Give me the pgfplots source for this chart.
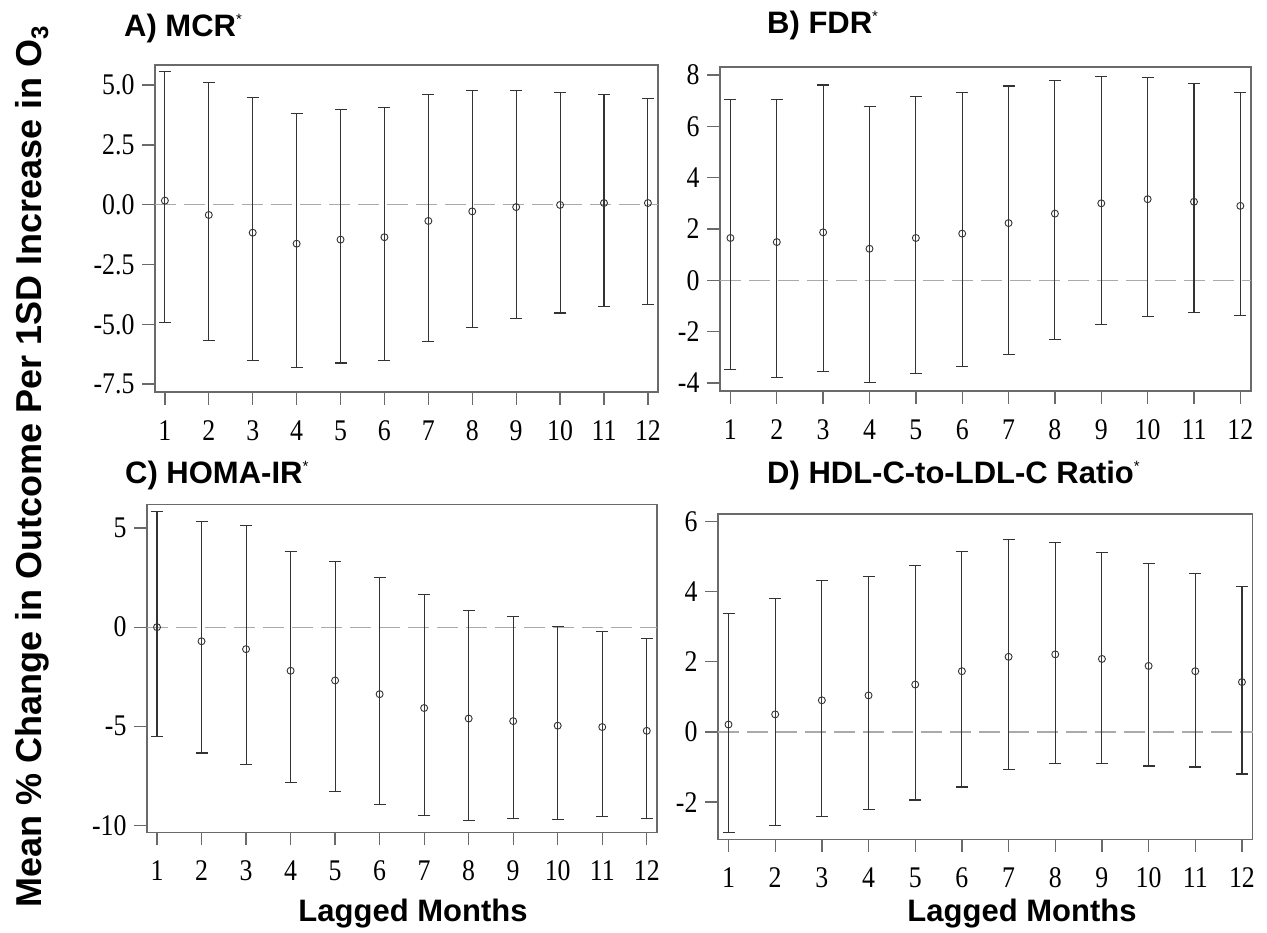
\documentclass[border=0pt]{standalone}
\usepackage{fontspec}
\setmainfont{Liberation Serif}
\setsansfont{Liberation Sans}
\newfontfamily\tickfont[FakeStretch=0.86]{Liberation Serif}
\usepackage{pgfplots}
\usepackage{pgfplotstable}
\pgfplotsset{compat=1.18}

\definecolor{boxgray}{HTML}{6A6A6A}
\definecolor{bargray}{HTML}{333333}
\definecolor{zerogray}{HTML}{AAAAAA}

% lagged month, estimated mean % change, lower and upper 95% limits
\pgfplotstableread{
lag  mean   lo     hi
1    0.17  -4.92   5.57
2   -0.43  -5.68   5.11
3   -1.17  -6.50   4.48
4   -1.63  -6.81   3.82
5   -1.46  -6.62   3.98
6   -1.36  -6.50   4.05
7   -0.68  -5.72   4.60
8   -0.28  -5.15   4.79
9   -0.10  -4.76   4.79
10  -0.01  -4.53   4.68
11   0.07  -4.25   4.60
12   0.07  -4.18   4.43
}\mcr

\pgfplotstableread{
lag  mean   lo     hi
1    1.65  -3.47   7.04
2    1.49  -3.77   7.06
3    1.87  -3.55   7.61
4    1.23  -3.99   6.77
5    1.65  -3.62   7.17
6    1.82  -3.36   7.31
7    2.23  -2.88   7.57
8    2.60  -2.31   7.77
9    3.00  -1.71   7.94
10   3.16  -1.42   7.90
11   3.06  -1.27   7.65
12   2.90  -1.38   7.31
}\fdr

\pgfplotstableread{
lag  mean   lo     hi
1    0.00  -5.51   5.83
2   -0.71  -6.35   5.33
3   -1.11  -6.91   5.13
4   -2.20  -7.85   3.83
5   -2.69  -8.30   3.31
6   -3.38  -8.96   2.52
7   -4.08  -9.48   1.63
8   -4.61  -9.75   0.84
9   -4.74  -9.66   0.52
10  -4.97  -9.70   0.03
11  -5.04  -9.56  -0.24
12  -5.23  -9.66  -0.57
}\homa

\pgfplotstableread{
lag  mean   lo     hi
1    0.21  -2.86   3.38
2    0.50  -2.66   3.79
3    0.90  -2.42   4.32
4    1.04  -2.20   4.43
5    1.35  -1.94   4.73
6    1.73  -1.57   5.14
7    2.14  -1.08   5.48
8    2.21  -0.89   5.40
9    2.08  -0.89   5.10
10   1.88  -0.97   4.79
11   1.73  -1.00   4.52
12   1.42  -1.20   4.14
}\hdlldl

\pgfplotsset{
  lagpanel/.style={
    scale only axis,
    anchor=south west,
    xmin=0.775, xmax=12.23,
    xtick={1,...,12},
    tick pos=left,
    tick align=outside,
    major tick length=13pt,
    axis line style={boxgray, line width=1.3pt},
    every tick/.style={boxgray, line width=1.3pt},
    tick label style={font=\tickfont\fontsize{30}{30}\selectfont},
    xticklabel style={yshift=-12pt},
    yticklabel style={xshift=-4pt},
    /pgf/number format/assume math mode=true,
    clip=false,
  },
  zeroline/.style={zerogray, line width=1.3pt, dash pattern=on 21pt off 8pt, forget plot},
  cibars/.style={
    only marks, mark=o, mark size=3.5pt,
    color=bargray,
    mark options={bargray, line width=0.9pt},
    error bars/.cd,
      y dir=both, y explicit,
      error bar style={line width=1.1pt, bargray},
      error mark options={rotate=90, mark size=6pt, line width=1.1pt, bargray},
  },
}

\newcommand{\cistar}{\raisebox{12pt}{\fontsize{15}{15}\selectfont\mdseries *}}

\begin{document}
\begin{tikzpicture}
\useasboundingbox (0,0) rectangle (1267pt,933pt);

% A) MCR
\begin{axis}[lagpanel, at={(155pt,541pt)}, width=503pt, height=327pt,
  ymin=-7.83, ymax=5.84,
  ytick={-7.5,-5,-2.5,0,2.5,5},
  yticklabels={-7.5,-5.0,-2.5,0.0,2.5,5.0}]
\addplot[zeroline] coordinates {(0.775,0) (12.23,0)};
\addplot[cibars] table[x=lag, y=mean,
  y error plus expr=\thisrow{hi}-\thisrow{mean},
  y error minus expr=\thisrow{mean}-\thisrow{lo}] {\mcr};
\end{axis}

% B) FDR
\begin{axis}[lagpanel, at={(720pt,542pt)}, width=531pt, height=324pt,
  ymin=-4.31, ymax=8.31,
  ytick={-4,-2,0,2,4,6,8},
  yticklabels={-4,-2,0,2,4,6,8}]
\addplot[zeroline] coordinates {(0.775,0) (12.23,0)};
\addplot[cibars] table[x=lag, y=mean,
  y error plus expr=\thisrow{hi}-\thisrow{mean},
  y error minus expr=\thisrow{mean}-\thisrow{lo}] {\fdr};
\end{axis}

% C) HOMA-IR
\begin{axis}[lagpanel, at={(147pt,100.7pt)}, width=510pt, height=328pt,
  ymin=-10.35, ymax=6.2,
  ytick={-10,-5,0,5},
  yticklabels={-10,-5,0,5}]
\addplot[zeroline] coordinates {(0.775,0) (12.23,0)};
\addplot[cibars] table[x=lag, y=mean,
  y error plus expr=\thisrow{hi}-\thisrow{mean},
  y error minus expr=\thisrow{mean}-\thisrow{lo}] {\homa};
\end{axis}

% D) HDL-C-to-LDL-C ratio
\begin{axis}[lagpanel, at={(718pt,93.7pt)}, width=534.7pt, height=325.3pt,
  ymin=-3.06, ymax=6.21,
  ytick={-2,0,2,4,6},
  yticklabels={-2,0,2,4,6}]
\addplot[zeroline] coordinates {(0.775,0) (12.23,0)};
\addplot[cibars] table[x=lag, y=mean,
  y error plus expr=\thisrow{hi}-\thisrow{mean},
  y error minus expr=\thisrow{mean}-\thisrow{lo}] {\hdlldl};
\end{axis}

% panel titles
\begin{scope}[every node/.style={anchor=base west, inner sep=0pt,
    font=\sffamily\bfseries\fontsize{31}{31}\selectfont}]
\node at (124pt,896.3pt) {A) MCR\cistar};
\node at (767pt,899.5pt) {B) FDR\cistar};
\node at (125pt,449pt) {C) HOMA-IR\cistar};
\node at (767pt,449pt) {D) HDL-C-to-LDL-C Ratio\cistar};
\end{scope}

% shared axis labels
\node[rotate=90, anchor=base, inner sep=0pt,
  font=\sffamily\bfseries\fontsize{36}{36}\selectfont] at (42pt,466pt)
  {Mean \% Change in Outcome Per 1SD Increase in O\raisebox{-6pt}{\fontsize{24}{24}\selectfont 3}};
\node[anchor=base, inner sep=0pt, font=\sffamily\bfseries\fontsize{31}{31}\selectfont]
  at (413pt,11pt) {Lagged Months};
\node[anchor=base, inner sep=0pt, font=\sffamily\bfseries\fontsize{31}{31}\selectfont]
  at (1022pt,11pt) {Lagged Months};
\end{tikzpicture}
\end{document}
